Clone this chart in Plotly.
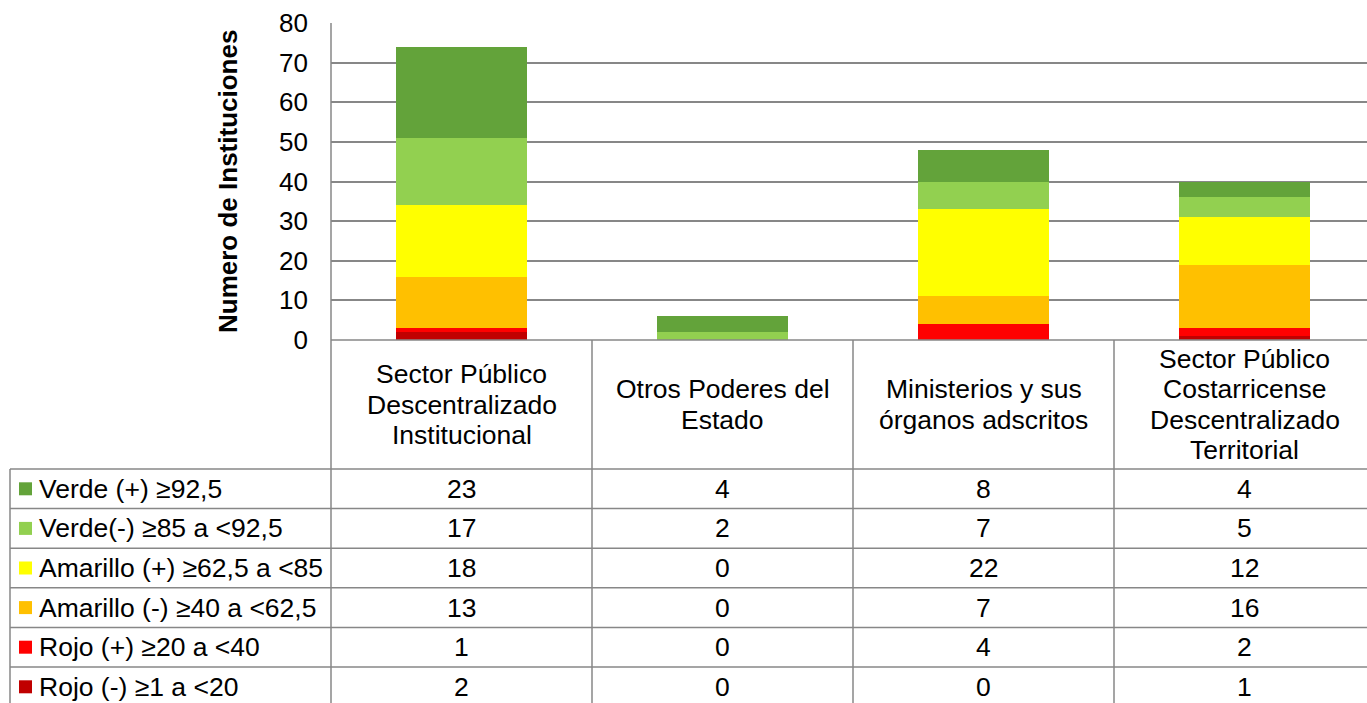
import plotly.graph_objects as go

W, H = 1367, 703

categories = [
    "Sector Público<br>Descentralizado<br>Institucional",
    "Otros Poderes del<br>Estado",
    "Ministerios y sus<br>órganos adscritos",
    "Sector Público<br>Costarricense<br>Descentralizado<br>Territorial",
]
series_names = [
    "Verde (+) ≥92,5",
    "Verde(-) ≥85 a <92,5",
    "Amarillo (+) ≥62,5 a <85",
    "Amarillo (-) ≥40 a <62,5",
    "Rojo (+) ≥20 a <40",
    "Rojo (-) ≥1 a <20",
]
verde_pos = [23, 4, 8, 4]
verde_neg = [17, 2, 7, 5]
amarillo_pos = [18, 0, 22, 12]
amarillo_neg = [13, 0, 7, 16]
rojo_pos = [1, 0, 4, 2]
rojo_neg = [2, 0, 0, 1]
series_values = [verde_pos, verde_neg, amarillo_pos, amarillo_neg, rojo_pos, rojo_neg]
colors = ["#63A33A", "#92D050", "#FFFF00", "#FFC000", "#FF0000", "#C00000"]
y_ticks = [0, 10, 20, 30, 40, 50, 60, 70, 80]

FONT = "Liberation Sans, Arial, sans-serif"
FS = 26.5
GRID = "#878787"
LW = 1.5

def py(p):
    return 1 - p / H

def px(p):
    return p / W

plot_left = 331
plot_top, plot_bottom = 23, 340
header_bottom = 469
row_h = 39.6
line_gap = 30.5
cat_px = 261.0
x_max = (W - plot_left) / cat_px - 0.5
n_rows = len(series_names)
row_edges = [header_bottom + i * row_h for i in range(n_rows + 1)]

fig = go.Figure()
for name, vals, col in reversed(list(zip(series_names, series_values, colors))):
    fig.add_trace(go.Bar(x=categories, y=vals, name=name, marker=dict(color=col, line=dict(width=0)),
                         width=0.5, showlegend=False))

fig.update_layout(
    template="none",
    barmode="stack",
    width=W, height=H, autosize=False,
    margin=dict(l=0, r=0, t=0, b=0, pad=0),
    plot_bgcolor="white", paper_bgcolor="white",
    font=dict(family=FONT, size=FS, color="#000000"),
    showlegend=False,
    xaxis=dict(domain=[px(plot_left), 1], range=[-0.5, x_max], showticklabels=False,
               showgrid=False, zeroline=False, showline=False, ticks="", automargin=False),
    yaxis=dict(domain=[py(plot_bottom), py(plot_top)], range=[0, 80], tickvals=y_ticks,
               showgrid=True, gridcolor=GRID, gridwidth=LW, zeroline=False,
               showline=False, ticks="", ticklabelstandoff=22, automargin=False,
               tickfont=dict(family=FONT, size=26, color="#000000")),
)

shapes = []
shapes.append(dict(type="line", xref="paper", yref="paper", x0=px(plot_left), x1=px(plot_left),
                   y0=0, y1=py(plot_top), line=dict(color=GRID, width=LW)))
shapes.append(dict(type="line", xref="paper", yref="paper", x0=px(plot_left), x1=1,
                   y0=py(plot_bottom), y1=py(plot_bottom), line=dict(color=GRID, width=LW)))
for i in range(len(categories) - 1):
    shapes.append(dict(type="line", xref="x", yref="paper", x0=i + 0.5, x1=i + 0.5,
                       y0=0, y1=py(plot_bottom), line=dict(color=GRID, width=LW)))
for e in row_edges[:-1]:
    shapes.append(dict(type="line", xref="paper", yref="paper", x0=px(10), x1=1,
                       y0=py(e), y1=py(e), line=dict(color=GRID, width=LW)))
shapes.append(dict(type="line", xref="paper", yref="paper", x0=px(10), x1=px(10),
                   y0=0, y1=py(header_bottom), line=dict(color=GRID, width=LW)))

annotations = []
annotations.append(dict(text="<b>Numero de Instituciones</b>", textangle=-90, xref="paper", yref="paper",
                        x=px(228), y=py((plot_top + plot_bottom) / 2 + 0.5), showarrow=False,
                        font=dict(family=FONT, size=26, color="#000000"),
                        xanchor="center", yanchor="middle"))
header_mid = (plot_bottom + header_bottom) / 2
for c in categories:
    lines = c.split("<br>")
    n = len(lines)
    for k, ln in enumerate(lines):
        yc = header_mid + (k - (n - 1) / 2) * line_gap
        annotations.append(dict(text=ln, xref="x", yref="paper", x=c, y=py(yc),
                                showarrow=False, xanchor="center", yanchor="middle",
                                font=dict(family=FONT, size=FS, color="#000000")))
for r, (name, vals, col) in enumerate(zip(series_names, series_values, colors)):
    yc = (row_edges[r] + row_edges[r + 1]) / 2
    shapes.append(dict(type="rect", xref="paper", yref="paper", x0=px(19), x1=px(32),
                       y0=py(yc + 6.5), y1=py(yc - 6.5), fillcolor=col, line=dict(width=0)))
    annotations.append(dict(text=name, xref="paper", yref="paper", x=px(37), y=py(yc),
                            showarrow=False, xanchor="left", yanchor="middle",
                            font=dict(family=FONT, size=FS, color="#000000")))
    for c, v in zip(categories, vals):
        annotations.append(dict(text=str(v), xref="x", yref="paper", x=c, y=py(yc),
                                showarrow=False, xanchor="center", yanchor="middle",
                                font=dict(family=FONT, size=FS, color="#000000")))

fig.update_layout(shapes=shapes, annotations=annotations)
fig.write_html("out.html", config={"displayModeBar": False},
               post_script="document.body.style.margin='0';document.body.style.overflow='hidden';")
